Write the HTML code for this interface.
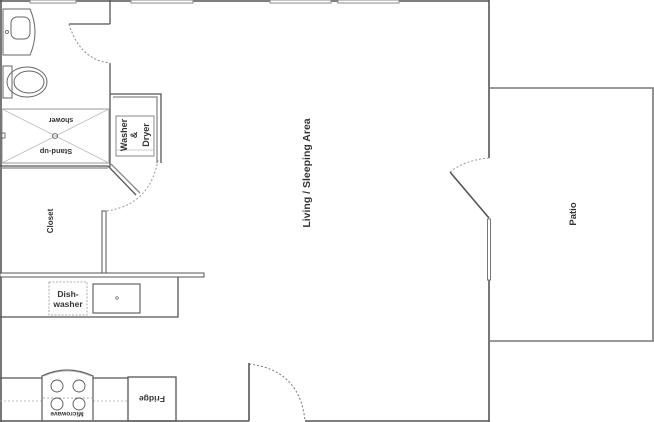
<!DOCTYPE html>
<html><head><meta charset="utf-8"><style>
html,body{margin:0;padding:0;background:#fff;}
svg{display:block;}
text{font-family:"Liberation Sans",sans-serif;font-weight:bold;fill:#333;}
</style></head><body>
<svg width="654" height="422" viewBox="0 0 654 422" xmlns="http://www.w3.org/2000/svg">
<g stroke="#555" fill="none" stroke-width="1.6">
<line x1="1" y1="0" x2="1" y2="422"/>
<line x1="0" y1="1" x2="489" y2="1"/>
<line x1="489" y1="0" x2="489" y2="158"/>
<line x1="489" y1="280" x2="489" y2="422"/>
<line x1="0" y1="421" x2="249" y2="421"/>
<line x1="305" y1="421" x2="489" y2="421"/>
<polyline points="489,88 653,88 653,341 489,341" stroke="#777"/>
<line x1="489" y1="218" x2="450" y2="172" stroke="#555"/>
<path d="M450,172 Q465,160 489,158" stroke="#999" stroke-dasharray="2,2" stroke-width="1"/>
<rect x="487.5" y="219" width="3" height="61" stroke="#777" stroke-width="1" fill="#fff"/>
<line x1="249" y1="363" x2="249" y2="421"/>
<path d="M249,364 Q300,370 305,421" stroke="#777" stroke-dasharray="2,2" stroke-width="1"/>
</g>
<g fill="#fff" stroke="#888" stroke-width="1">
<rect x="30" y="0" width="46" height="3"/>
<rect x="131" y="0" width="62" height="3"/>
<rect x="270" y="0" width="61" height="3"/>
<rect x="338" y="0" width="61" height="3"/>
</g>
<g stroke="#555" fill="none" stroke-width="1.3">
<line x1="110" y1="0" x2="110" y2="24"/>
<line x1="110" y1="63" x2="110" y2="167"/>
<line x1="69" y1="24" x2="110" y2="24"/>
<path d="M69,24 Q80,60 110,63" stroke="#888" stroke-dasharray="2,2" stroke-width="1"/>
<path d="M3,9 L30,9 Q40,32 30,55 L3,55 Z" stroke="#666" stroke-width="1"/>
<rect x="11" y="17" width="19" height="22" rx="6" stroke="#666" stroke-width="1"/>
<circle cx="7" cy="32" r="1.5" stroke-width="0.8"/>
<rect x="3" y="66" width="9" height="32" stroke="#666" stroke-width="1"/>
<ellipse cx="27" cy="82" rx="20" ry="15" stroke="#666" stroke-width="1"/>
<ellipse cx="29" cy="82" rx="15" ry="11" stroke="#666" stroke-width="1"/>
<rect x="2" y="109" width="107" height="54" stroke="#999" stroke-width="1"/>
<line x1="2" y1="109" x2="109" y2="163" stroke="#bbb" stroke-width="0.8"/>
<line x1="109" y1="109" x2="2" y2="163" stroke="#bbb" stroke-width="0.8"/>
<circle cx="55" cy="136" r="2.5" stroke-width="0.8"/>
<rect x="1" y="133" width="4" height="5" stroke-width="0.8"/>
<line x1="0" y1="166" x2="108" y2="166"/>
<line x1="0" y1="168" x2="108" y2="168" stroke="#888"/>
<polyline points="110,94 161,94 161,163"/>
<polyline points="113,97 157,97 157,163" stroke="#888"/>
<rect x="116" y="116" width="38" height="40" stroke="#888" stroke-width="1"/>
<line x1="117" y1="150" x2="153" y2="150" stroke="#bbb" stroke-width="0.8"/>
<line x1="108" y1="166" x2="136" y2="195"/>
<line x1="111" y1="164" x2="140" y2="193" stroke="#888"/>
<path d="M158,160 Q150,205 106,211" stroke="#999" stroke-dasharray="2,2" stroke-width="1"/>
<rect x="102" y="211" width="4" height="62" stroke-width="1" fill="#fff"/>
<rect x="0" y="273" width="204" height="4" stroke-width="1" fill="#fff"/>
<polyline points="0,317 178,317 178,277"/>
<rect x="49" y="282" width="38" height="33" stroke="#999" stroke-dasharray="2,1.5" stroke-width="0.8"/>
<rect x="93" y="284" width="47" height="29" stroke="#555" stroke-width="1.1"/>
<circle cx="117" cy="298" r="1.3" stroke-width="0.7"/>
<line x1="0" y1="378" x2="42" y2="378"/>
<line x1="93" y1="378" x2="128" y2="378"/>
<line x1="0" y1="401" x2="42" y2="401" stroke="#aaa" stroke-dasharray="2,2" stroke-width="0.8"/>
<line x1="93" y1="401" x2="128" y2="401" stroke="#aaa" stroke-dasharray="2,2" stroke-width="0.8"/>
<path d="M42,421 L42,376 Q67,364 93,376 L93,421" stroke="#666"/>
<path d="M44,376 Q67,366 91,376" stroke="#aaa" stroke-width="0.8"/>
<line x1="43" y1="398" x2="92" y2="398" stroke="#999" stroke-dasharray="2,2" stroke-width="0.8"/>
<circle cx="57" cy="386" r="6" stroke-width="0.9"/>
<circle cx="79" cy="386" r="6" stroke-width="0.9"/>
<circle cx="57" cy="404" r="6" stroke-width="0.9"/>
<circle cx="79" cy="404" r="6" stroke-width="0.9"/>
<rect x="128" y="377" width="48" height="44" stroke-width="1.3"/>
</g>
<text x="0" y="0" font-size="7" text-anchor="middle" transform="translate(61,118) rotate(180)">shower</text>
<text x="0" y="0" font-size="7.5" text-anchor="middle" transform="translate(56,149) rotate(180)">Stand-up</text>
<text x="0" y="0" font-size="9" text-anchor="middle" transform="translate(127,135) rotate(-90)">Washer</text>
<text x="0" y="0" font-size="9" text-anchor="middle" transform="translate(137,135) rotate(-90)">&amp;</text>
<text x="0" y="0" font-size="9" text-anchor="middle" transform="translate(149,135) rotate(-90)">Dryer</text>
<text x="0" y="0" font-size="8" text-anchor="middle" transform="translate(53,221) rotate(-90)">Closet</text>
<text x="68" y="297" font-size="8.5" text-anchor="middle">Dish-</text>
<text x="68" y="307" font-size="8.5" text-anchor="middle">washer</text>
<text x="0" y="0" font-size="10.5" text-anchor="middle" transform="translate(310,173) rotate(-90)">Living / Sleeping Area</text>
<text x="0" y="0" font-size="9.5" text-anchor="middle" transform="translate(576,214) rotate(-90)">Patio</text>
<text x="0" y="0" font-size="8.5" text-anchor="middle" transform="translate(152,396) rotate(180)">Fridge</text>
<text x="0" y="0" font-size="6.5" text-anchor="middle" transform="translate(67,412) rotate(180)">Microwave</text>
</svg>
</body></html>
